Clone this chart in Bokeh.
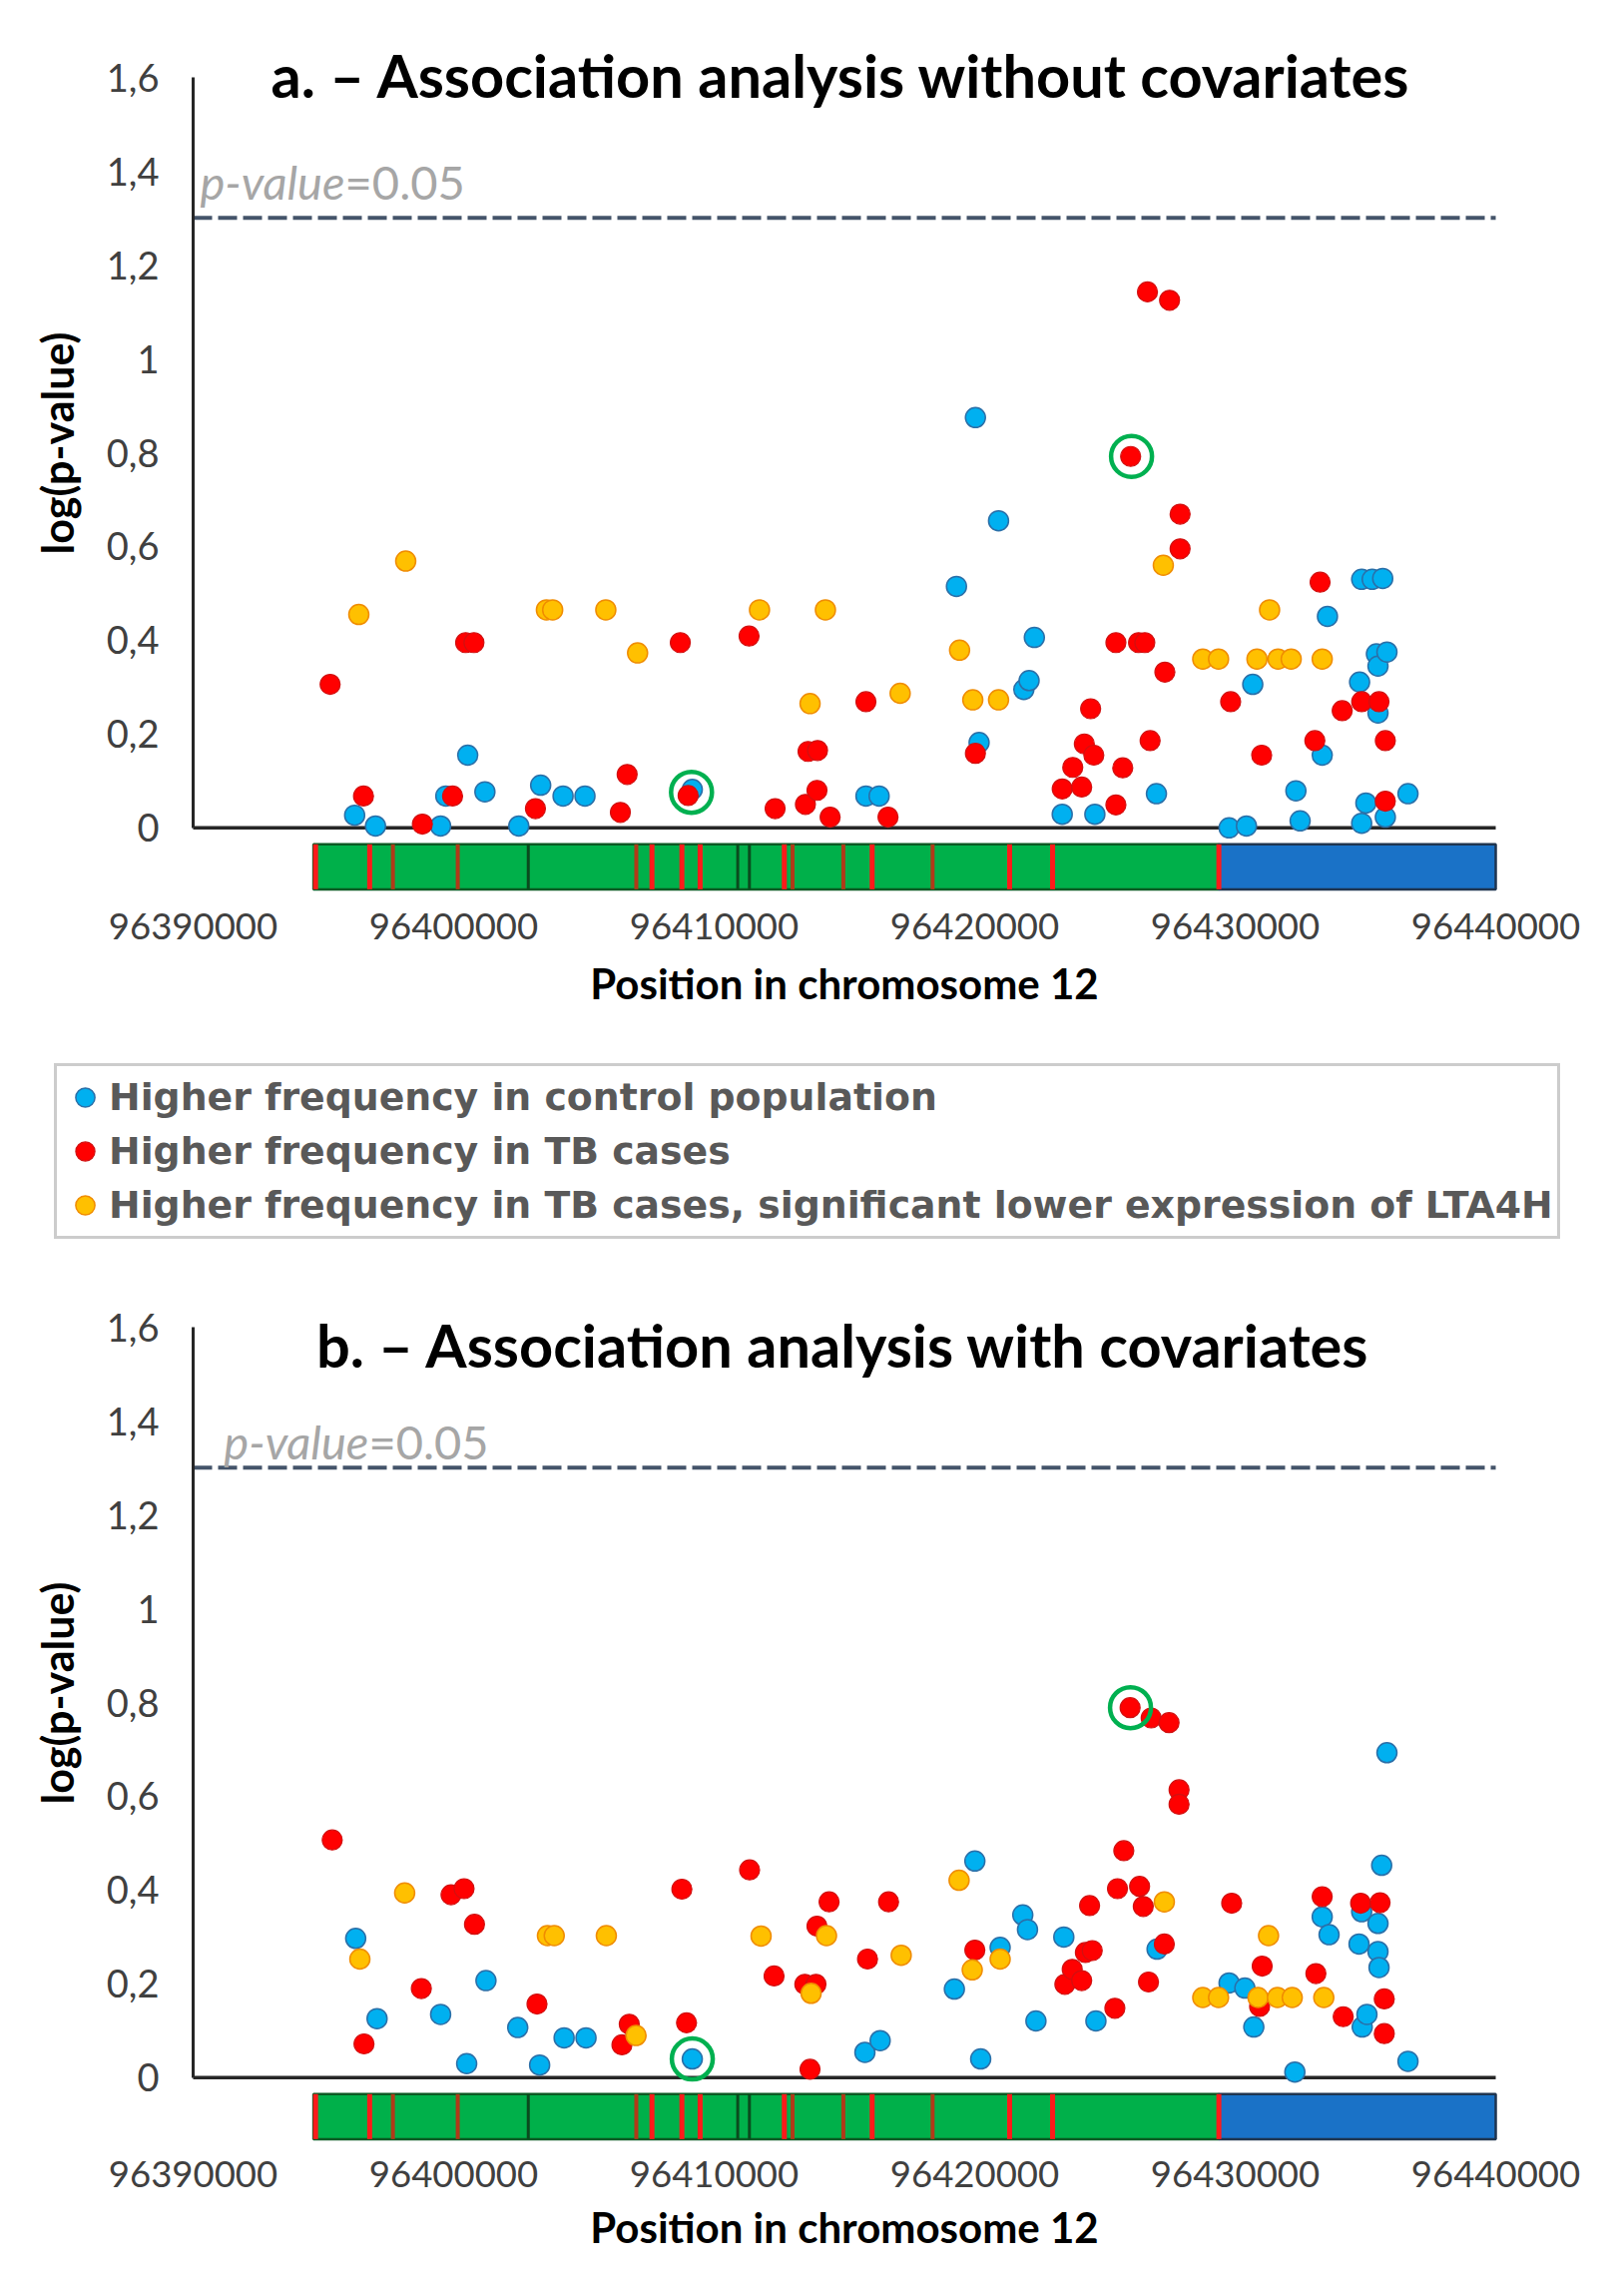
import math
from bokeh.plotting import figure
from bokeh.models import (Range1d, FixedTicker, CustomJSTickFormatter, BasicTickFormatter,
                          Label, Legend, LegendItem)
from bokeh.layouts import column
from bokeh.embed import file_html
from bokeh.resources import INLINE

# ---------------- data ----------------
X_TICKS = [96390000, 96400000, 96410000, 96420000, 96430000, 96440000]
Y_TICKS = [0, 0.2, 0.4, 0.6, 0.8, 1.0, 1.2, 1.4, 1.6]
THRESHOLD = 1.30103  # -log10(0.05)

LEGEND_LABELS = ["Higher frequency in control population",
                 "Higher frequency in TB cases",
                 "Higher frequency in TB cases, significant lower expression of LTA4H"]

# gene structure (LTA4H)
GENE_START = 96394620
GREEN_END = 96429370
GENE_END = 96440000
EXON_MARKS = [96394700, 96396776, 96397668, 96400157, 96402864, 96407010, 96407611,
              96408760, 96409460, 96410904, 96411352, 96412692, 96413009, 96414958,
              96416064, 96418384, 96421340, 96422990, 96429372]
EXON_KIND = ["r", "r", "b", "b", "d", "b", "r", "r", "r", "d", "d", "r", "b", "b",
             "r", "b", "r", "r", "r"]

# panel a: without covariates
A_BLUE_X = [96396200, 96397000, 96399500, 96399700, 96400540, 96401200, 96402500, 96403340,
            96404200, 96405040, 96409160, 96415826, 96416331, 96419300, 96420028, 96420169,
            96420916, 96421886, 96422088, 96422290, 96423360, 96424613, 96426976, 96429764,
            96430431, 96430673, 96432329, 96432491, 96433340, 96433541, 96434774, 96434854,
            96434854, 96435016, 96435258, 96435420, 96435480, 96435480, 96435662, 96435763,
            96435824, 96436632]
A_BLUE_Y = [0.027, 0.004, 0.004, 0.068, 0.155, 0.077, 0.004, 0.091,
            0.068, 0.068, 0.082, 0.068, 0.068, 0.515, 0.875, 0.182,
            0.655, 0.295, 0.314, 0.406, 0.029, 0.029, 0.073, 0.0,
            0.004, 0.306, 0.079, 0.015, 0.155, 0.451, 0.311, 0.010,
            0.530, 0.053, 0.530, 0.371, 0.345, 0.245, 0.532, 0.023,
            0.375, 0.073]
A_RED_X = [96395260, 96396540, 96398800, 96399960, 96400460, 96400780, 96403140, 96406400,
           96406660, 96408700, 96409000, 96411340, 96412340, 96413503, 96413604, 96413947,
           96413968, 96414452, 96415826, 96416674, 96420028, 96423360, 96423765, 96424108,
           96424209, 96424451, 96424573, 96425421, 96425421, 96425684, 96425987, 96426290,
           96426530, 96426633, 96426734, 96427300, 96427481, 96427885, 96427885, 96429825,
           96431016, 96433057, 96433259, 96434107, 96434854, 96435520, 96435763, 96435763]
A_RED_Y = [0.306, 0.068, 0.008, 0.068, 0.395, 0.395, 0.041, 0.033,
           0.114, 0.395, 0.069, 0.409, 0.041, 0.050, 0.163, 0.080,
           0.165, 0.023, 0.269, 0.023, 0.159, 0.083, 0.129, 0.087,
           0.179, 0.254, 0.155, 0.049, 0.395, 0.128, 0.792, 0.395,
           0.395, 1.143, 0.186, 0.332, 1.125, 0.669, 0.595, 0.269,
           0.155, 0.186, 0.524, 0.250, 0.269, 0.269, 0.186, 0.057]
A_ORANGE_X = [96396360, 96398160, 96403560, 96403800, 96405840, 96407060, 96411740, 96413680,
              96414270, 96417139, 96419420, 96419927, 96420916, 96427240, 96428754, 96429360,
              96430835, 96431319, 96431643, 96432148, 96433339]
A_ORANGE_Y = [0.455, 0.569, 0.465, 0.465, 0.465, 0.373, 0.465, 0.265,
              0.465, 0.287, 0.379, 0.273, 0.273, 0.560, 0.360, 0.360,
              0.360, 0.465, 0.360, 0.360, 0.360]
A_RING_X = [96409130, 96426020]
A_RING_Y = [0.076, 0.792]

# panel b: with covariates
B_BLUE_X = [96396240, 96397060, 96399500, 96400500, 96401240, 96402460, 96403300, 96404240,
            96405080, 96409160, 96415786, 96416371, 96419220, 96420007, 96420230, 96420977,
            96421846, 96422027, 96422351, 96423421, 96424653, 96427000, 96429764, 96430370,
            96430713, 96432289, 96433339, 96433602, 96434753, 96434854, 96434875, 96435056,
            96435480, 96435481, 96435520, 96435622, 96435824, 96436632]
B_BLUE_Y = [0.297, 0.126, 0.135, 0.030, 0.207, 0.107, 0.027, 0.085,
            0.085, 0.040, 0.054, 0.079, 0.189, 0.462, 0.040, 0.278,
            0.347, 0.316, 0.121, 0.300, 0.121, 0.274, 0.202, 0.191,
            0.108, 0.012, 0.343, 0.305, 0.285, 0.354, 0.108, 0.135,
            0.269, 0.329, 0.235, 0.453, 0.693, 0.035]
B_RED_X = [96395340, 96396560, 96398760, 96399900, 96400400, 96400800, 96403200, 96406460,
           96406740, 96408760, 96408940, 96411360, 96412300, 96413480, 96413680, 96413907,
           96413947, 96414412, 96415887, 96416695, 96420007, 96423462, 96423744, 96424108,
           96424249, 96424411, 96424512, 96425381, 96425482, 96425724, 96425966, 96426330,
           96426471, 96426673, 96426774, 96427280, 96427461, 96427845, 96427845, 96429865,
           96430936, 96431037, 96433097, 96433339, 96434147, 96434814, 96435561, 96435723,
           96435723]
B_RED_Y = [0.507, 0.072, 0.190, 0.390, 0.403, 0.327, 0.157, 0.070,
           0.114, 0.402, 0.117, 0.443, 0.217, 0.199, 0.018, 0.199,
           0.323, 0.375, 0.253, 0.375, 0.272, 0.199, 0.231, 0.207,
           0.267, 0.367, 0.271, 0.148, 0.403, 0.484, 0.789, 0.408,
           0.365, 0.204, 0.767, 0.285, 0.757, 0.614, 0.583, 0.372,
           0.152, 0.238, 0.222, 0.386, 0.130, 0.372, 0.373, 0.168,
           0.094]
B_ORANGE_X = [96396400, 96398120, 96403600, 96403860, 96405860, 96407000, 96411800, 96413720,
              96414311, 96417179, 96419401, 96419906, 96420977, 96427279, 96428754, 96429360,
              96430875, 96431279, 96431622, 96432188, 96433400]
B_ORANGE_Y = [0.253, 0.394, 0.303, 0.303, 0.303, 0.090, 0.302, 0.180,
              0.303, 0.261, 0.421, 0.230, 0.253, 0.375, 0.171, 0.171,
              0.171, 0.303, 0.171, 0.171, 0.171]
B_RING_X = [96409160, 96425980]
B_RING_Y = [0.040, 0.789]

TITLE_A = "a. \u2013 Association analysis without covariates"
TITLE_B = "b. \u2013 Association analysis with covariates"
Y_LABEL = "log(p-value)"
X_LABEL = "Position in chromosome 12"

# ---------------- styles / layout ----------------
BLUE_FILL, BLUE_LINE = "#00B0F0", "#2A6FA8"
RED_FILL, RED_LINE = "#FF0000", "#D21010"
ORANGE_FILL, ORANGE_LINE = "#FFC000", "#F08C00"
RING = "#00B050"
FONT = "Lato"
TOTAL_W = 1611
LEFT = 193                 # plot area left edge (px)
W_AREA, H_AREA = 1305, 855  # plot area size (px)
Y_LO, Y_HI = -0.16, 1.66    # value span of the plot area


def chart(title, title_x, title_y, pv_x, pv_y, xlab_y, blue, red, orange, ring,
          top, bottom, tick_standoff):
    kx = W_AREA / (X_TICKS[-1] - X_TICKS[0])
    ky = H_AREA / (Y_HI - Y_LO)
    xr = Range1d(X_TICKS[0] - LEFT / kx, X_TICKS[-1] + (TOTAL_W - LEFT - W_AREA) / kx)
    yr = Range1d(Y_LO - bottom / ky, Y_HI + top / ky)
    p = figure(output_backend="svg", toolbar_location=None,
               width=TOTAL_W, height=top + H_AREA + bottom,
               x_range=xr, y_range=yr,
               min_border=0, min_border_left=0, min_border_right=0,
               min_border_top=0, min_border_bottom=0)
    p.outline_line_color = None
    p.xgrid.visible = False
    p.ygrid.visible = False
    p.background_fill_color = "white"
    p.border_fill_color = "white"

    # y axis, drawn at the first position tick
    ya = p.yaxis[0]
    ya.fixed_location = X_TICKS[0]
    ya.ticker = FixedTicker(ticks=Y_TICKS)
    ya.bounds = (Y_TICKS[0], Y_TICKS[-1])
    ya.formatter = CustomJSTickFormatter(
        code="var s = (Math.round(tick*10)/10).toString(); return s.replace('.', ',');")
    ya.major_tick_out = 0
    ya.major_tick_in = 0
    ya.minor_tick_out = 0
    ya.minor_tick_in = 0
    ya.axis_line_color = "#262626"
    ya.axis_line_width = 3
    ya.major_label_standoff = 34
    ya.major_label_text_font = FONT
    ya.major_label_text_font_size = "38px"
    ya.major_label_text_color = "#404040"

    # x axis, drawn just below the gene bar
    xa = p.xaxis[0]
    xa.fixed_location = Y_LO
    xa.ticker = FixedTicker(ticks=X_TICKS)
    xa.bounds = (X_TICKS[0], X_TICKS[-1])
    xa.formatter = BasicTickFormatter(use_scientific=False)
    xa.axis_line_color = None
    xa.major_tick_out = 0
    xa.major_tick_in = 0
    xa.minor_tick_out = 0
    xa.minor_tick_in = 0
    xa.major_label_standoff = tick_standoff
    xa.major_label_text_font = FONT
    xa.major_label_text_font_size = "36.5px"
    xa.major_label_text_color = "#404040"

    # axis titles
    p.add_layout(Label(x=X_TICKS[0] - 136 / kx, y=0.82, text=Y_LABEL, angle=math.pi / 2,
                       text_font=FONT, text_font_style="bold", text_font_size="43px",
                       text_color="#000000", text_align="center", text_baseline="middle"))
    p.add_layout(Label(x=(X_TICKS[0] + X_TICKS[-1]) / 2, y=xlab_y, text=X_LABEL,
                       text_font=FONT, text_font_style="bold", text_font_size="42px",
                       text_color="#000000", text_align="center", text_baseline="middle"))

    # gene structure bar
    p.quad(left=[GENE_START, GREEN_END], right=[GREEN_END, GENE_END],
           bottom=-0.131, top=-0.035,
           fill_color=["#00B04A", "#1A72C7"], line_color=["#0B5A23", "#1F3550"],
           line_width=2.5)
    cols = {"r": "#FF1A1A", "b": "#B03A18", "d": "#0B4A1E"}
    wids = {"r": 5, "b": 4, "d": 3}
    p.segment(x0=EXON_MARKS, x1=EXON_MARKS, y0=-0.131, y1=-0.035,
              line_color=[cols[k] for k in EXON_KIND],
              line_width=[wids[k] for k in EXON_KIND])

    # zero line and threshold
    p.segment(x0=[X_TICKS[0]], x1=[X_TICKS[-1]], y0=[0], y1=[0],
              line_color="#262626", line_width=3.5)
    p.segment(x0=[X_TICKS[0]], x1=[X_TICKS[-1]], y0=[THRESHOLD], y1=[THRESHOLD],
              line_color="#44546A", line_width=4, line_dash="19 6")

    # points
    rb = p.scatter(blue[0], blue[1], size=20, fill_color=BLUE_FILL, line_color=BLUE_LINE, line_width=1.5)
    rr = p.scatter(red[0], red[1], size=20, fill_color=RED_FILL, line_color=RED_LINE, line_width=1.2)
    ro = p.scatter(orange[0], orange[1], size=20, fill_color=ORANGE_FILL, line_color=ORANGE_LINE, line_width=1.5)
    p.scatter(ring[0], ring[1], size=41, fill_color=None, line_color=RING, line_width=4.5)

    # texts
    p.add_layout(Label(x=title_x, y=title_y, text=title, text_font=FONT,
                       text_font_style="bold", text_font_size="59.5px", text_color="#000000",
                       text_align="center", text_baseline="alphabetic"))
    p.add_layout(Label(x=pv_x, y=pv_y, text="p-value", text_font=FONT,
                       text_font_style="italic", text_font_size="47px", text_color="#A6A6A6",
                       text_baseline="alphabetic"))
    p.add_layout(Label(x=pv_x + 5560, y=pv_y, text="=0.05", text_font=FONT,
                       text_font_size="47px", text_color="#A6A6A6",
                       text_baseline="alphabetic"))
    return p, (rb, rr, ro)


A_TOP, A_BOTTOM = 49, 355
B_TOP, B_BOTTOM = 42, 110

pa, rens = chart(TITLE_A, 96414890, 1.605, 96390268, 1.377, -0.331,
                 (A_BLUE_X, A_BLUE_Y), (A_RED_X, A_RED_Y), (A_ORANGE_X, A_ORANGE_Y),
                 (A_RING_X, A_RING_Y), A_TOP, A_BOTTOM, 10)
pb, _ = chart(TITLE_B, 96414976, 1.564, 96391180, 1.356, -0.318,
              (B_BLUE_X, B_BLUE_Y), (B_RED_X, B_RED_Y), (B_ORANGE_X, B_ORANGE_Y),
              (B_RING_X, B_RING_Y), B_TOP, B_BOTTOM, 8)

# legend shown between the two panels (below panel a)
legend = Legend(items=[LegendItem(label=lab, renderers=[r]) for lab, r in zip(LEGEND_LABELS, rens)],
                location=(54, 18), orientation="vertical",
                label_text_font="DejaVu Sans", label_text_font_style="bold",
                label_text_font_size="37.8px", label_text_color="#595959",
                glyph_width=48, glyph_height=54, label_height=54, spacing=0,
                padding=4, margin=0, label_standoff=0,
                border_line_color="#9A9A9A", border_line_width=3,
                background_fill_color="white", background_fill_alpha=1.0)
pa.add_layout(legend)

layout = column(pa, pb, spacing=0)
open("out.html", "w").write(file_html(layout, INLINE))
